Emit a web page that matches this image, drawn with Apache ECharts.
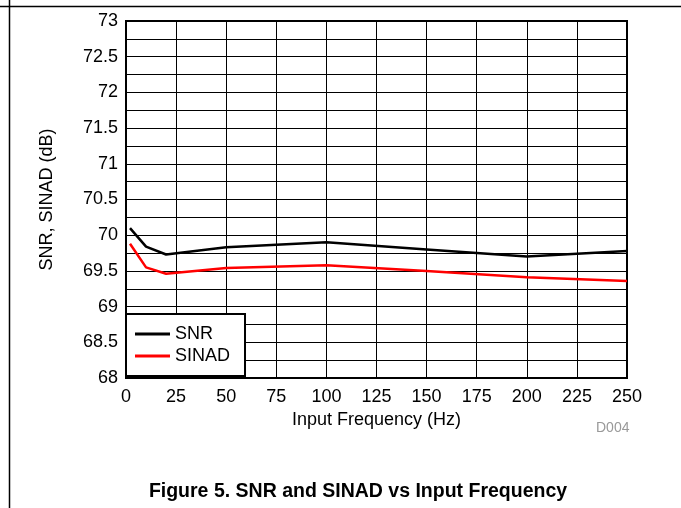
<!DOCTYPE html>
<html>
<head>
<meta charset="utf-8">
<script src="https://cdn.jsdelivr.net/npm/echarts@6/dist/echarts.min.js"></script>
<style>
html,body{margin:0;padding:0;background:#fff;}
#chart{width:681px;height:508px;}
</style>
</head>
<body>
<div id="chart"></div>
<script>
var frequency = [2, 10, 20, 50, 100, 150, 200, 250];
var snr = [70.1, 69.84, 69.73, 69.83, 69.9, 69.8, 69.7, 69.78];
var sinad = [69.88, 69.55, 69.46, 69.54, 69.58, 69.5, 69.41, 69.36];
var seriesNames = ['SNR', 'SINAD'];
var xTitle = 'Input Frequency (Hz)';
var yTitle = 'SNR, SINAD (dB)';
var caption = 'Figure 5. SNR and SINAD vs Input Frequency';
var code = 'D004';

function pairs(xs, ys) { return xs.map(function (x, i) { return [x, ys[i]]; }); }

var font = 'Arial, "Liberation Sans", sans-serif';
var chart = echarts.init(document.getElementById('chart'), null, {renderer: 'canvas'});
chart.setOption({
  animation: false,
  backgroundColor: '#fff',
  grid: {left: 126, right: 54, top: 21, bottom: 130, show: true, borderColor: '#000', borderWidth: 2, backgroundColor: 'transparent'},
  xAxis: {
    type: 'value', min: 0, max: 250, interval: 25,
    axisLine: {show: false}, axisTick: {show: false},
    splitLine: {show: true, lineStyle: {color: '#000', width: 1}},
    axisLabel: {color: '#000', fontSize: 18, fontFamily: font, margin: 10},
    name: xTitle, nameLocation: 'middle', nameGap: 30,
    nameTextStyle: {color: '#000', fontSize: 18, fontFamily: font}
  },
  yAxis: {
    type: 'value', min: 68, max: 73, interval: 0.5,
    axisLine: {show: false}, axisTick: {show: false},
    splitLine: {show: true, lineStyle: {color: '#000', width: 1}},
    minorTick: {show: false, splitNumber: 2},
    minorSplitLine: {show: true, lineStyle: {color: '#000', width: 1}},
    axisLabel: {color: '#000', fontSize: 18, fontFamily: font, margin: 8},
    name: yTitle, nameLocation: 'middle', nameGap: 70,
    nameTextStyle: {color: '#000', fontSize: 18, fontFamily: font}
  },
  legend: {
    left: 126, top: 314, orient: 'vertical',
    backgroundColor: '#fff', borderColor: '#000', borderWidth: 2,
    padding: [11, 15, 11, 9], itemGap: 4, itemWidth: 35, itemHeight: 3,
    icon: 'rect',
    textStyle: {color: '#000', fontSize: 18, fontFamily: font},
    data: seriesNames
  },
  series: [
    {name: seriesNames[0], type: 'line', data: pairs(frequency, snr), symbol: 'none', lineStyle: {color: '#000', width: 2.5}, itemStyle: {color: '#000'}},
    {name: seriesNames[1], type: 'line', data: pairs(frequency, sinad), symbol: 'none', lineStyle: {color: '#ff0000', width: 2.5}, itemStyle: {color: '#ff0000'}}
  ],
  graphic: [
    {type: 'line', shape: {x1: 0, y1: 6.5, x2: 681, y2: 6.5}, style: {stroke: '#000', lineWidth: 1.5}},
    {type: 'line', shape: {x1: 9.5, y1: 0, x2: 9.5, y2: 508}, style: {stroke: '#000', lineWidth: 1.5}},
    {type: 'text', left: 596, top: 421, style: {text: code, fill: '#999', font: '14px ' + font}},
    {type: 'text', x: 358, y: 492, style: {text: caption, fill: '#000', font: 'bold 19.5px ' + font, textAlign: 'center', textVerticalAlign: 'middle'}}
  ]
});
</script>
</body>
</html>
